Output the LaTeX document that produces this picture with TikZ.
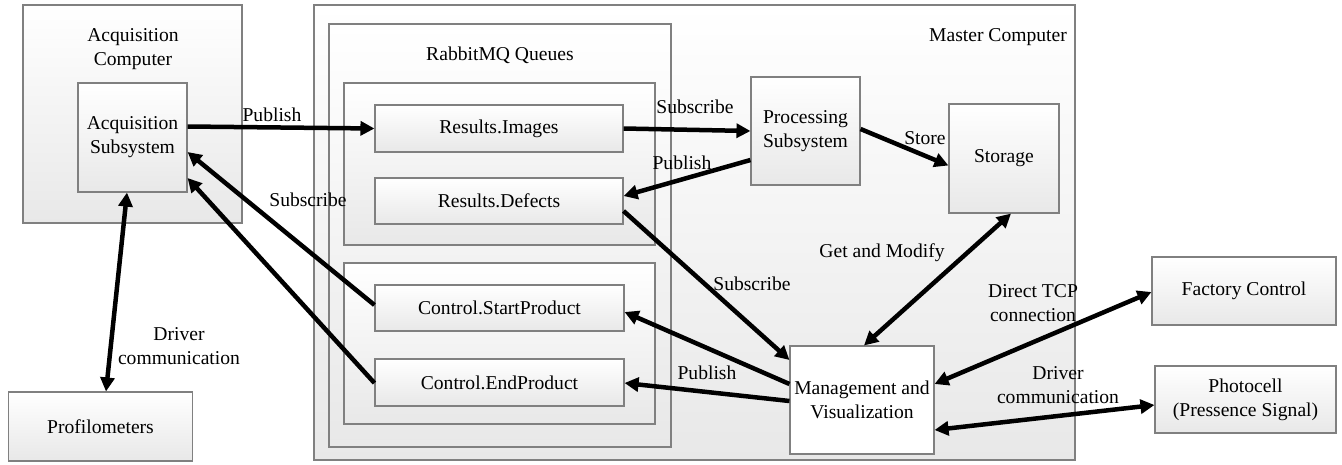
\documentclass[tikz,border=0pt]{standalone}
\usepackage{fontspec}
\setmainfont{Liberation Serif}
\usetikzlibrary{arrows.meta,calc}
\tikzset{
  box/.style={draw=black!50, line width=1.1pt, top color=white, bottom color=black!9,
    inner sep=0pt, align=center, font=\fontsize{19.6}{24}\selectfont},
  lbl/.style={inner sep=0pt, align=center, font=\fontsize{19.6}{24}\selectfont},
  arr/.style={line width=4.5pt, -{Triangle[length=14pt,width=14pt]}},
  darr/.style={line width=4.5pt, {Triangle[length=14pt,width=14pt]}-{Triangle[length=14pt,width=14pt]}}
}
\begin{document}
\begin{tikzpicture}[x=1pt,y=-1pt]
\useasboundingbox (0,0) rectangle (1342,464);
% outer containers
\node[box, minimum width=219, minimum height=218] (acqc) at (132.5,114) {};
\node[lbl] (acqclbl) at (133,49) {Acquisition\\Computer};
\node[box, minimum width=761, minimum height=455] (master) at (694.5,232.5) {};
\node[lbl] (masterlbl) at (998,37) {Master Computer};
\node[box, minimum width=342, minimum height=423] (rabbit) at (500,235.5) {};
\node[lbl] (rabbitlbl) at (500,55) {RabbitMQ Queues};
\node[box, minimum width=311, minimum height=162] (resq) at (499.5,164) {};
\node[box, minimum width=311, minimum height=161] (ctlq) at (499.5,343.5) {};
% inner boxes
\node[box, minimum width=109, minimum height=109] (acqs) at (132.5,137.5) {Acquisition\\Subsystem};
\node[box, minimum width=248, minimum height=47] (rimg) at (499,128.5) {Results.Images};
\node[box, minimum width=248, minimum height=46] (rdef) at (499,201) {Results.Defects};
\node[box, minimum width=249, minimum height=46] (cstart) at (499.5,308) {Control.StartProduct};
\node[box, minimum width=249, minimum height=47] (cend) at (499.5,382.5) {Control.EndProduct};
\node[box, minimum width=109, minimum height=108] (proc) at (805.5,131) {Processing\\Subsystem};
\node[box, minimum width=110, minimum height=109] (stor) at (1004,158.5) {Storage};
\node[box, minimum width=144, minimum height=108, top color=white, bottom color=white] (mgmt) at (862,400) {Management and\\Visualization};
\node[box, minimum width=184, minimum height=68] (fact) at (1244,291) {Factory Control};
\node[box, minimum width=181, minimum height=67] (photo) at (1245.5,399.5) {Photocell\\(Pressence Signal)};
\node[box, minimum width=184, minimum height=69] (prof) at (100.5,426.5) {Profilometers};
% connectors
\draw[arr] ($(acqs.east)+(0,-11)$) -- (rimg.west);
\draw[arr] ($(cstart.west)+(0,-3)$) -- ($(acqs.east)+(0,14.5)$);
\draw[arr] ($(cend.west)+(0,0.5)$) -- ($(acqs.east)+(0,40.5)$);
\draw[darr] ($(acqs.south)+(-5.5,0)$) -- ($(prof.north)+(5.5,0)$);
\draw[arr] (rimg.east) -- (proc.west);
\draw[arr] ($(proc.west)+(0,29)$) -- ($(rdef.east)+(0,-5)$);
\draw[arr] ($(proc.east)+(0,-2)$) -- ($(stor.west)+(0,7)$);
\draw[arr] ($(rdef.east)+(0,10)$) -- ($(mgmt.west)+(0,-40)$);
\draw[arr] ($(mgmt.west)+(0,-16)$) -- ($(cstart.east)+(0,4)$);
\draw[arr] ($(mgmt.west)+(0,1)$) -- ($(cend.east)+(0,0.5)$);
\draw[darr] ($(stor.south)+(7,0)$) -- ($(mgmt.north)+(2,0)$);
\draw[darr] ($(fact.west)+(0,1)$) -- ($(mgmt.east)+(0,-16)$);
\draw[darr] ($(photo.west)+(0,5.5)$) -- ($(mgmt.east)+(0,30)$);
% labels
\node[lbl] (l1) at (272,115) {Publish};
\node[lbl] (l2) at (308,200) {Subscribe};
\node[lbl] (l3) at (695,107) {Subscribe};
\node[lbl] (l4) at (682,163) {Publish};
\node[lbl] (l5) at (925,138) {Store};
\node[lbl] (l6) at (882,253) {Get and Modify};
\node[lbl] (l7) at (752,284) {Subscribe};
\node[lbl] (l8) at (707,373) {Publish};
\node[lbl] (l9) at (1033,303) {Direct TCP\\connection};
\node[lbl] (l10) at (1058,385.5) {Driver\\communication};
\node[lbl] (l11) at (179,346.5) {Driver\\communication};
\end{tikzpicture}
\end{document}
